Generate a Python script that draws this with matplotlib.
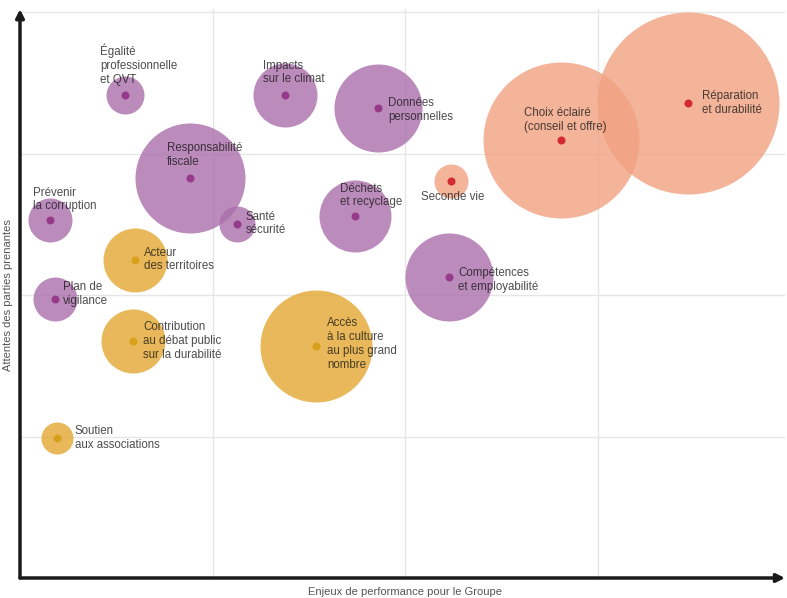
import matplotlib
matplotlib.use("Agg")
import matplotlib.pyplot as plt

plt.rcParams['font.family'] = ['Liberation Sans', 'DejaVu Sans']

# ---- data ----
labels = [
    "Égalité\nprofessionnelle\net QVT",
    "Impacts\nsur le climat",
    "Données\npersonnelles",
    "Responsabilité\nfiscale",
    "Prévenir\nla corruption",
    "Santé\nsécurité",
    "Déchets\net recyclage",
    "Compétences\net employabilité",
    "Plan de\nvigilance",
    "Acteur\ndes territoires",
    "Contribution\nau débat public\nsur la durabilité",
    "Accès\nà la culture\nau plus grand\nnombre",
    "Soutien\naux associations",
    "Seconde vie",
    "Choix éclairé\n(conseil et offre)",
    "Réparation\net durabilité",
]
groups = ["social", "social", "social", "social", "social", "social", "social",
          "social", "social", "societal", "societal", "societal", "societal",
          "produit", "produit", "produit"]
performance = [0.545, 1.377, 1.860, 0.883, 0.156, 1.127, 1.740, 2.229, 0.182,
               0.597, 0.587, 1.538, 0.192, 2.239, 2.810, 3.470]
attentes = [3.413, 3.413, 3.322, 2.827, 2.530, 2.502, 2.558, 2.127, 1.972,
            2.247, 1.675, 1.640, 0.989, 2.806, 3.095, 3.357]
poids = [19, 32, 44, 55, 22, 18, 36, 44, 22, 32, 32, 56, 16, 17, 78, 91]

# ---- layout / style ----
fill_colors = {"social": "#aa6faa", "societal": "#e3a731", "produit": "#f1a181"}
dot_colors = {"social": "#973a8a", "societal": "#d9a01c", "produit": "#d42a32"}
# label offsets in pixels (dx to left edge of text, dy to centre of text block; up positive)
label_offsets = [(-25, 30.5), (-22, 22.5), (10, -2), (-23, 23), (-17, 20.5),
                 (9, 0.5), (-15, 20.5), (9, -3), (8, 5), (9, 0.5), (10, 0),
                 (11, 2), (18, 0), (-30, -16), (-37, 20), (14, 0)]

W, H, DPI = 787, 598, 100
fig = plt.figure(figsize=(W / DPI, H / DPI), dpi=DPI)
left_px, right_px, bottom_px = 20, 785, 578
xunit, yunit = 192.5, 141.5
xmax = (right_px - left_px) / xunit
ymax = 4.02
ax = fig.add_axes([left_px / W, (H - bottom_px) / H,
                   (right_px - left_px) / W, ymax * yunit / H])
ax.set_xlim(0, xmax)
ax.set_ylim(0, ymax)
for s in ax.spines.values():
    s.set_visible(False)
ax.set_xticks([])
ax.set_yticks([])

# grid
for gx in [1, 2, 3]:
    ax.axvline(gx, color="#e6e6e6", lw=1, zorder=0)
for gy in [1, 2, 3, 4]:
    ax.axhline(gy, color="#e6e6e6", lw=1, zorder=0)

px2pt = 72 / DPI
sizes = [(2 * r * px2pt) ** 2 for r in poids]
order = sorted(range(len(labels)), key=lambda i: -poids[i])
for i in order:
    ax.scatter(performance[i], attentes[i], s=sizes[i], color=fill_colors[groups[i]],
               alpha=0.8, linewidths=0, zorder=2)
for i in range(len(labels)):
    ax.scatter(performance[i], attentes[i], s=(8 * px2pt) ** 2,
               color=dot_colors[groups[i]], linewidths=0, zorder=4)
    dx, dy = label_offsets[i]
    ax.annotate(labels[i], (performance[i], attentes[i]),
                xytext=(dx * px2pt, dy * px2pt), textcoords="offset points",
                ha="left", va="center", fontsize=8.3, color="#111111", alpha=0.75,
                linespacing=1.2, zorder=3)

# axes arrows
ax.annotate("", xy=(1.0, 0), xytext=(0, 0), xycoords="axes fraction",
            arrowprops=dict(arrowstyle="-|>", lw=2.5, color="#1a1a1a",
                            mutation_scale=12, shrinkA=0, shrinkB=0), annotation_clip=False)
ax.annotate("", xy=(0, 1.0), xytext=(0, 0), xycoords="axes fraction",
            arrowprops=dict(arrowstyle="-|>", lw=2.5, color="#1a1a1a",
                            mutation_scale=12, shrinkA=0, shrinkB=0), annotation_clip=False)

fig.text(405 / W, 1 - 592 / H, "Enjeux de performance pour le Groupe",
         ha="center", va="center", fontsize=8, color="#555555")
fig.text(8 / W, 1 - 295 / H, "Attentes des parties prenantes", rotation=90,
         ha="center", va="center", fontsize=8, color="#555555")

fig.savefig("out.png", dpi=DPI)
